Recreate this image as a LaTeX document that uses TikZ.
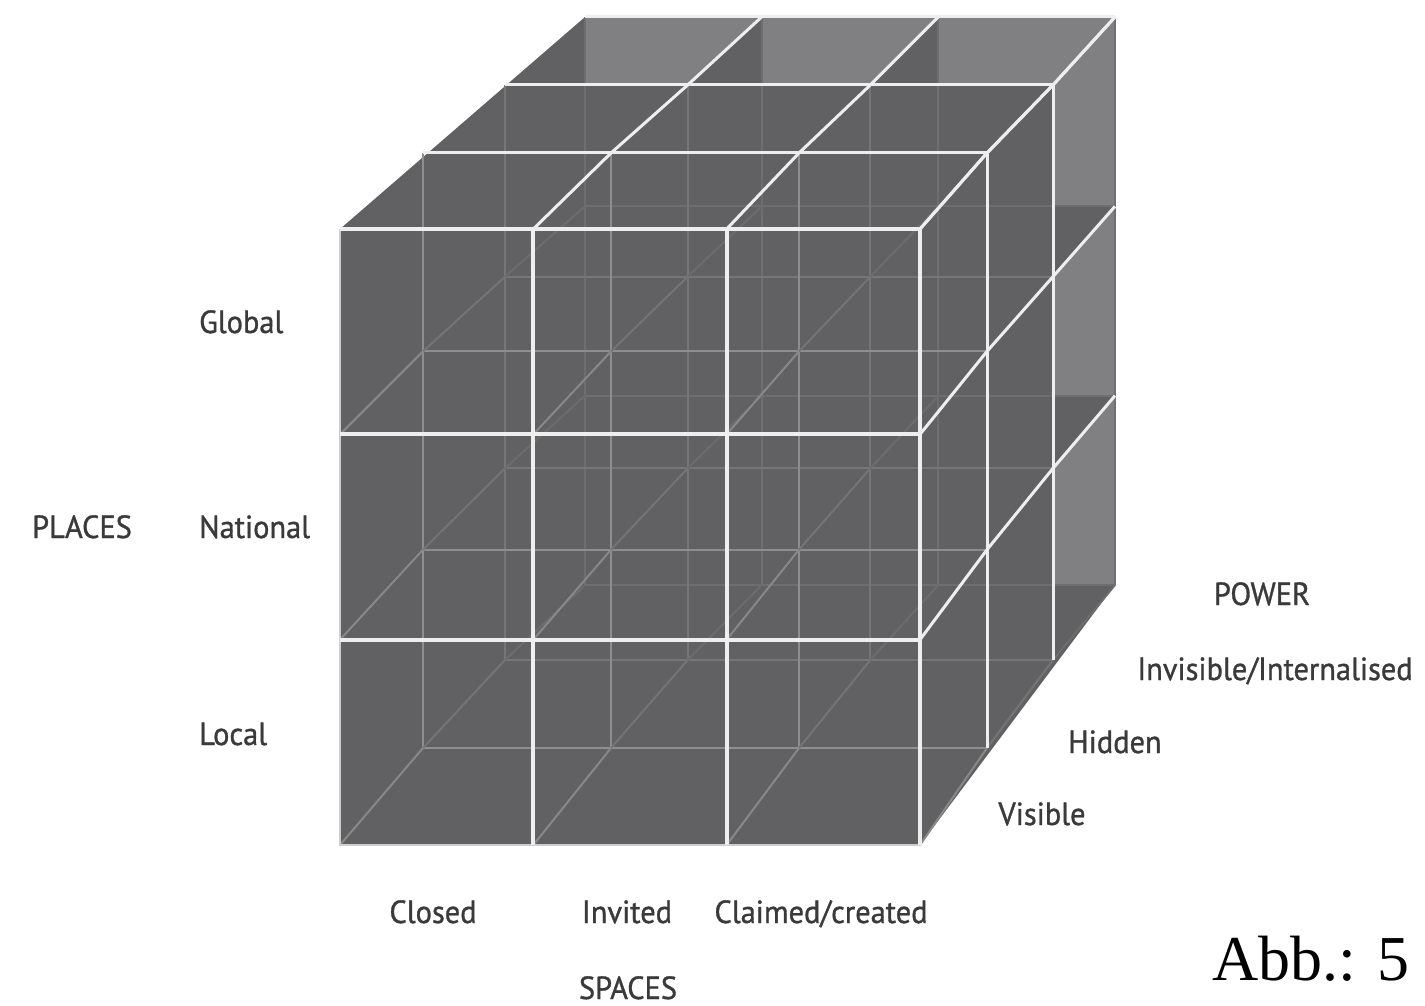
\documentclass[tikz,border=0pt]{standalone}
\usepackage{fontspec}
\setmainfont{Liberation Serif}
\newfontfamily\labelfont[FakeStretch=0.95, FakeBold=1]{PT Sans}
\usetikzlibrary{calc}

\definecolor{cubegray}{RGB}{97,97,99}
\definecolor{backgray}{RGB}{128,128,130}
\definecolor{edgewhite}{RGB}{238,238,238}
\definecolor{rimwhite}{RGB}{205,205,205}
\definecolor{labelgray}{RGB}{58,58,58}

\tikzset{
  lbl/.style={font=\labelfont\fontsize{32}{32}\selectfont, text=labelgray, inner sep=0pt},
  frontedge/.style={draw=edgewhite, line width=4pt},
  rimedge/.style={draw=rimwhite, line width=2.5pt},
  outeredge/.style={draw=edgewhite, line width=3pt},
  inneredge/.style={line width=2pt},
}

\begin{document}
\begin{tikzpicture}[x=1pt,y=-1pt]
\useasboundingbox (0,0) rectangle (1425,1006);

% grid points of the four depth layers: p<layer><column><row>
\foreach \d/\l/\r/\t/\b in {0/340/920/229/845, 1/423/987/153/748,
                            2/505/1053/85/660, 3/585/1115/17/585}
  \foreach \i in {0,...,3}
    \foreach \j in {0,...,3}
      \coordinate (p\d\i\j) at ({\l+\i*(\r-\l)/3},{\t+\j*(\b-\t)/3});

% body of the cube
\fill[cubegray] (p000) -- (p300) -- (p330) -- (p333) -- (p033) -- (p003) -- cycle;

% back cells seen through the top
\foreach \i [evaluate=\i as \k using int(\i+1)] in {0,1,2}
  \fill[backgray] (p3\i0) -- (p3\k0) -- (p2\k0) -- (p2\k0 -| p3\i0) -- cycle;
% back cells seen through the right side
\foreach \j [evaluate=\j as \k using int(\j+1)] in {0,1,2}
  \fill[backgray] (p23\j) -- (p33\j) -- (p33\k) -- (p23\j |- p33\k) -- cycle;

% inner edges, fainter the deeper they lie
\foreach \d/\s in {3/110, 2/118, 1/142} {
  \definecolor{innergray}{RGB}{\s,\s,\s}
  \foreach \i in {0,...,3}
    \draw[innergray, inneredge] (p\d\i0) -- (p\d\i3);
  \foreach \j in {0,...,3}
    \draw[innergray, inneredge] (p\d0\j) -- (p\d3\j);
}
\foreach \d/\e/\s in {2/3/108, 1/2/116, 0/1/136} {
  \definecolor{innergray}{RGB}{\s,\s,\s}
  \foreach \i in {0,...,3}
    \foreach \j in {0,...,3} {
      \ifnum\i\j=0\relax\else
        \draw[innergray, inneredge] (p\d\i\j) -- (p\e\i\j);
      \fi
    }
}

% top face
\foreach \d in {1,2,3}
  \draw[outeredge] (p\d00) -- (p\d30);
\foreach \i in {1,2,3}
  \draw[outeredge] (p0\i0) -- (p1\i0) -- (p2\i0) -- (p3\i0);

% right face
\foreach \d in {1,2}
  \draw[outeredge] (p\d30) -- (p\d33);
\foreach \j in {0,1,2}
  \draw[outeredge] (p03\j) -- (p13\j) -- (p23\j) -- (p33\j);

% front face
\draw[rimedge] (p000) -- (p003) -- (p033);
\foreach \i in {1,2,3}
  \draw[frontedge] (p0\i0) -- (p0\i3);
\foreach \j in {0,1,2}
  \draw[frontedge] (p00\j) -- (p03\j);

% places
\node[lbl, anchor=base west] (global) at (199,333) {Global};
\node[lbl, anchor=base west] (national) at (199,538) {National};
\node[lbl, anchor=base west] (local) at (199,745) {Local};
\node[lbl, anchor=base] (places) at (82,538) {PLACES};

% spaces
\node[lbl, anchor=base] (closed) at (433,923) {Closed};
\node[lbl, anchor=base] (invited) at (627,923) {Invited};
\node[lbl, anchor=base] (claimed) at (821,923) {Claimed/created};
\node[lbl, anchor=base] (spaces) at (628,999) {SPACES};

% power
\node[lbl, anchor=base] (power) at (1262,605) {POWER};
\node[lbl, anchor=base] (invisible) at (1275,680) {Invisible/Internalised};
\node[lbl, anchor=base] (hidden) at (1115,753) {Hidden};
\node[lbl, anchor=base] (visible) at (1042,825) {Visible};

\node[font=\fontsize{64}{64}\selectfont, inner sep=0pt, anchor=base] (abb) at (1311,980) {Abb.: 5};

\end{tikzpicture}
\end{document}
